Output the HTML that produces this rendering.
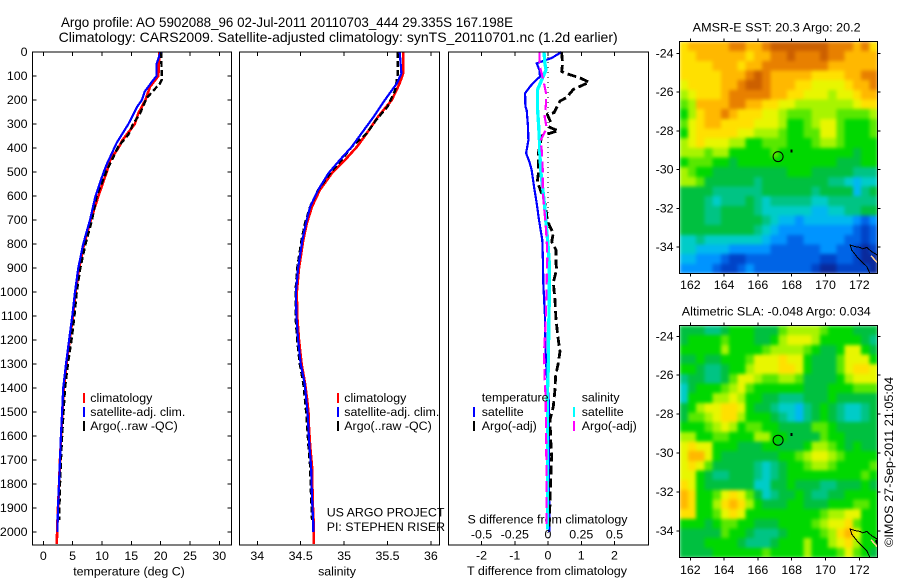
<!DOCTYPE html>
<html lang="en">
<head>
<meta charset="utf-8">
<title>Argo profile 5902088_96</title>
<style>
html,body{margin:0;padding:0;background:#fff;}
svg{display:block;font-family:"Liberation Sans",sans-serif;font-size:12.4px;fill:#000;}
</style>
</head>
<body>
<svg id="chart" width="900" height="580" viewBox="0 0 900 580" xmlns="http://www.w3.org/2000/svg">
  <defs>
    <filter id="smooth" x="0" y="0" width="100%" height="100%" color-interpolation-filters="sRGB">
      <feGaussianBlur stdDeviation="1.9" edgeMode="duplicate"/>
    </filter>
    <clipPath id="clip-sst"><rect x="679.5" y="41.5" width="198" height="232"/></clipPath>
    <clipPath id="clip-sla"><rect x="679.5" y="325.5" width="198" height="232"/></clipPath>
  </defs>
  <text x="61" y="27" font-size="14" textLength="452" lengthAdjust="spacingAndGlyphs">Argo profile: AO 5902088_96 02-Jul-2011 20110703_444 29.335S 167.198E</text>
  <text x="58.7" y="42" font-size="14" textLength="559" lengthAdjust="spacingAndGlyphs">Climatology: CARS2009. Satellite-adjusted climatology: synTS_20110701.nc (1.2d earlier)</text>
  <text x="129" y="575.500" text-anchor="middle">temperature (deg C)</text>
  <text x="337" y="575.500" text-anchor="middle">salinity</text>
  <text x="547" y="575" text-anchor="middle" textLength="160" lengthAdjust="spacingAndGlyphs">T difference from climatology</text>
  <text x="547.500" y="523.500" text-anchor="middle" textLength="160" lengthAdjust="spacingAndGlyphs">S difference from climatology</text>
  <text x="326.700" y="516.500">US ARGO PROJECT</text>
  <text x="326.700" y="531">PI: STEPHEN RISER</text>
  <text x="776.700" y="31.500" text-anchor="middle" textLength="168" lengthAdjust="spacingAndGlyphs">AMSR-E SST: 20.3 Argo: 20.2</text>
  <text x="776.300" y="315.500" text-anchor="middle" textLength="189" lengthAdjust="spacingAndGlyphs">Altimetric SLA: -0.048 Argo: 0.034</text>
  <text transform="translate(893,547) rotate(-90)" textLength="170" lengthAdjust="spacingAndGlyphs">©IMOS 27-Sep-2011 21:05:04</text>
</svg>
<script>
/* ---------- Profile data (depth in m) ---------- */
const depthTicks = [0,100,200,300,400,500,600,700,800,900,1000,1100,1200,1300,1400,1500,1600,1700,1800,1900,2000];
const tempTicks = [0,5,10,15,20,25,30];
const salTicks = [34,34.5,35,35.5,36];
const tDiffTicks = [-2,-1,0,1,2];
const sDiffTicks = [-0.5,-0.25,0,0.25,0.5];
const sDiffTickLabels = ["-0.5","-0.25","0","0.25","0.5"];

const tempClimDepth = [0,100,144,200,256,300,367,400,450,500,600,700,800,900,1000,1100,1200,1300,1400,1500,1600,1700,1800,1900,2000,2050];
const tempClimValue = [19.8,19.6,18.2,17.4,16.2,15.6,13.5,12.8,11.4,10.8,9.4,8.1,6.95,6.1,5.5,5.05,4.5,3.95,3.5,3.25,3.05,2.85,2.7,2.5,2.35,2.3];
const tempSatDepth = [0,50,100,115,164,200,228,300,379,463,500,600,700,800,900,1000,1100,1200,1300,1400,1500,1600,1700,1800,1900,2000];
const tempSatValue = [20.0,19.3,19.3,18.8,17.3,16.8,16.0,14.5,12.5,10.9,10.3,8.9,7.96,6.8,5.97,5.4,4.95,4.4,3.87,3.4,3.2,3.0,2.85,2.68,2.5,2.4];
const tempArgoDepth = [0,115,130,192,256,300,344,393,450,500,600,700,800,900,1000,1100,1200,1300,1400,1500,1600,1700,1800,1900,1950];
const tempArgoValue = [20.1,20.2,19.9,17.6,16.5,15.3,14.5,12.8,11.7,10.7,9.1,8.3,7.2,6.3,5.7,5.3,4.8,4.2,3.7,3.45,3.2,3.0,2.85,2.75,2.7];

const salClimDepth = [0,89,130,200,270,339,394,450,505,575,644,714,783,900,1000,1100,1200,1300,1380,1450,1505,1560,1644,1728,1811,1894,1964,2050];
const salClimValue = [35.68,35.68,35.64,35.55,35.39,35.26,35.15,35.01,34.86,34.72,34.63,34.57,34.53,34.48,34.455,34.46,34.48,34.51,34.55,34.575,34.59,34.595,34.61,34.63,34.635,34.64,34.65,34.65];
const salSatDepth = [0,89,130,200,270,339,394,450,505,575,644,714,783,900,1000,1100,1200,1300,1380,1450,1505,1560,1644,1728,1811,1894,1964,2000];
const salSatValue = [35.64,35.66,35.61,35.47,35.34,35.2,35.09,34.95,34.82,34.70,34.61,34.56,34.52,34.47,34.445,34.45,34.47,34.5,34.545,34.565,34.58,34.587,34.6,34.62,34.625,34.635,34.645,34.645];
const salArgoDepth = [0,89,158,228,283,339,394,450,505,575,644,714,783,900,1000,1100,1200,1300,1380,1450,1505,1560,1644,1728,1811,1894,1950];
const salArgoValue = [35.62,35.62,35.59,35.5,35.37,35.26,35.09,34.97,34.84,34.70,34.61,34.55,34.51,34.46,34.44,34.44,34.46,34.49,34.53,34.55,34.565,34.575,34.59,34.61,34.615,34.625,34.63];

const tDiffSatDepth = [0,25,47,75,103,117,144,172,228,242,311,367,422,457,492,561,630,700,783,880,964,1047,1103,1228,1339,1450,2000];
const tDiffSatValue = [0.41,0.11,-0.34,-0.26,-0.24,-0.36,-0.54,-0.69,-0.68,-0.64,-0.6,-0.59,-0.66,-0.56,-0.49,-0.42,-0.34,-0.27,-0.17,-0.15,-0.14,-0.11,-0.09,-0.08,-0.04,0.02,0.04];
const tDiffArgoDepth = [0,47,81,88,108,126,156,190,204,253,260,295,315,328,349,420,450,503,540,590,631,700,728,755,790,825,880,905,960,1033,1116,1199,1248,1296,1351,1407,1477,1533,1616,1686,1783,1880,1978];
const tDiffArgoValue = [0.41,0.44,0.41,0.51,0.96,1.24,0.76,0.56,0.36,0.18,-0.02,0.09,0.06,0.31,-0.19,-0.29,-0.29,-0.29,-0.32,-0.19,-0.09,-0.02,0.06,0.16,0.11,0.24,0.24,0.26,0.16,0.21,0.24,0.31,0.36,0.31,0.23,0.21,0.16,0.06,0.08,0.11,0.08,0.06,0.03];
const sDiffSatDepth = [0,47,75,117,158,228,311,367,436,505,575,644,714,783,825,880,1019,1158,1297,1436,1575,1990];
const sDiffSatValue = [-0.03,-0.023,-0.015,-0.048,-0.08,-0.08,-0.07,-0.065,-0.06,-0.053,-0.038,-0.025,-0.015,-0.003,0.003,0.01,0.01,0.005,0.003,-0.005,-0.003,-0.003];
const sDiffArgoDepth = [0,18,53,88,130,172,214,270,318,367,422,505,575,644,714,783,850,950,1090,1186,1256,1297,1367,1436,1700,1971];
const sDiffArgoValue = [-0.065,-0.065,-0.065,-0.048,-0.03,-0.015,-0.015,-0.025,-0.01,-0.055,-0.045,-0.038,-0.04,-0.03,-0.018,-0.01,-0.005,-0.01,-0.015,-0.023,-0.03,-0.028,-0.025,-0.018,-0.012,-0.012];

/* ---------- Map data (colour level per 0.5 degree cell, north to south) ---------- */
const lonTicks = [162,164,166,168,170,172];
const latTicks = [-24,-26,-28,-30,-32,-34];
const sstLevels = [
[12,13,13,13,13,13,14,14,13,13,14,15,15,15,15,15,15,15,14,14,14,13,14,12],
[12,12,13,13,13,13,13,13,12,13,13,14,14,15,14,14,14,15,14,14,13,13,13,13],
[12,12,12,12,13,13,13,12,13,13,14,14,14,14,14,14,14,14,13,13,13,13,13,13],
[12,12,12,12,12,13,13,13,14,15,14,13,13,13,13,13,12,12,12,12,13,13,14,14],
[11,12,12,12,12,13,13,14,15,15,14,13,13,13,12,12,11,11,11,11,12,13,13,14],
[10,11,12,12,12,13,14,14,14,14,14,13,13,12,12,11,11,11,10,11,11,12,13,13],
[9,10,13,13,13,13,14,14,13,13,12,12,11,11,10,10,10,10,10,10,10,11,12,12],
[8,10,12,13,13,14,13,12,12,12,11,11,10,9,9,9,10,10,10,9,9,9,9,10],
[9,11,12,13,13,12,12,12,12,11,11,11,10,8,8,9,10,11,11,9,8,8,8,9],
[8,11,12,12,12,12,12,11,11,10,10,10,9,8,8,9,9,11,11,9,8,8,8,9],
[10,11,12,11,11,11,10,10,8,8,9,9,9,8,8,8,9,10,10,9,8,8,8,8],
[10,10,10,9,10,10,8,8,8,8,8,9,8,8,8,8,8,8,8,8,8,7,8,8],
[8,9,9,9,8,8,7,8,8,8,8,8,8,8,8,8,8,8,8,7,7,7,8,8],
[10,9,8,8,7,7,7,7,7,7,7,7,7,8,8,8,7,7,7,7,7,6,6,6],
[10,10,9,7,7,7,7,7,7,6,7,7,7,7,7,7,7,7,6,6,5,4,5,5],
[7,7,7,7,6,6,6,6,6,6,7,7,7,7,7,7,6,7,7,7,7,4,6,7],
[7,7,7,6,5,6,6,6,7,6,5,6,6,6,6,6,5,5,6,6,6,6,6,6],
[7,7,7,6,6,7,7,7,7,6,5,5,5,5,5,5,4,4,5,5,6,6,7,7],
[7,7,7,6,6,7,7,7,7,7,6,5,4,4,3,4,4,4,4,4,4,3,2,3],
[7,7,7,7,7,7,7,7,7,6,5,4,3,3,3,3,3,3,3,3,3,2,1,2],
[5,5,6,5,5,5,5,5,5,5,4,3,3,2,2,3,3,3,3,3,2,2,1,2],
[5,5,4,4,4,4,3,3,3,3,3,2,2,2,2,2,2,3,3,2,2,1,0,1],
[4,4,3,3,3,2,1,1,2,2,2,2,2,2,2,2,2,1,1,2,2,1,0,0],
[3,3,3,3,2,1,1,2,3,2,2,2,2,2,2,2,1,0,0,1,1,1,1,0]
];
const slaLevels = [
[7,7,7,6,6,7,8,8,8,7,7,7,9,10,10,10,10,9,8,8,8,7,7,7],
[7,8,8,8,8,9,8,8,8,7,7,8,10,11,11,11,10,8,8,8,8,8,7,6],
[8,8,8,8,8,10,8,8,8,8,9,10,10,10,10,9,8,7,7,8,11,11,8,7],
[7,7,8,7,7,8,8,8,9,11,11,11,12,11,11,8,7,7,7,9,11,11,11,8],
[8,8,7,6,6,7,8,8,10,11,11,11,12,12,11,8,7,7,7,9,11,12,12,11],
[6,7,7,6,6,7,9,11,11,10,9,9,10,10,9,7,7,7,7,8,10,11,11,11],
[5,7,8,8,8,9,10,11,9,8,8,8,8,8,8,7,7,7,8,8,8,9,9,9],
[5,8,8,8,10,10,11,10,8,8,7,7,6,6,6,7,7,7,8,7,7,7,7,7],
[7,8,10,11,11,12,12,11,8,7,7,6,5,5,4,6,7,8,7,6,5,5,6,7],
[7,9,9,10,11,12,12,10,8,8,8,7,6,5,4,6,7,8,7,6,5,5,6,7],
[8,8,8,9,10,11,10,8,9,9,8,8,7,7,7,7,9,9,8,7,7,7,7,7],
[10,10,8,8,9,9,8,8,8,10,10,8,8,7,7,7,7,9,8,8,7,7,7,7],
[11,12,11,11,8,8,8,7,7,7,8,8,7,7,7,8,10,10,9,8,7,8,7,7],
[11,13,13,11,8,7,7,7,7,7,7,7,8,8,9,10,11,11,10,9,8,8,8,8],
[11,12,11,9,7,7,7,7,7,6,5,6,7,8,8,9,10,10,9,8,8,8,8,9],
[11,11,8,7,6,6,7,7,7,6,5,6,7,8,8,8,8,8,8,8,8,8,9,8],
[12,11,8,7,7,7,7,7,7,5,5,7,7,8,7,7,7,6,6,7,7,7,8,7],
[13,12,8,8,9,11,12,11,9,7,5,6,7,7,8,7,6,6,7,7,8,8,8,8],
[13,12,8,8,10,12,13,12,10,8,7,7,7,8,8,7,7,7,8,8,8,9,9,8],
[12,12,8,8,9,11,12,11,8,8,8,8,8,8,8,8,8,9,10,10,11,11,8,8],
[8,8,8,7,8,9,9,8,8,7,7,7,8,8,8,8,9,10,11,11,12,9,8,8],
[7,7,7,7,7,9,8,8,7,6,6,6,7,8,8,8,8,9,10,12,13,11,8,8],
[7,7,7,8,8,8,8,7,6,6,6,7,8,8,8,10,8,8,10,11,12,10,8,8],
[7,7,7,7,8,8,8,8,8,8,9,8,8,8,8,10,8,8,8,9,11,9,8,7]
];
const coastLons = [172.04,171.75,171.46,171.55,171.94,172.44,172.63];
const coastLats = [-34.02,-33.98,-33.9,-34.16,-34.59,-35.0,-35.36];
const coastNorthLons = [172.04,172.2,172.44,172.73,173.07];
const coastNorthLats = [-34.02,-34.1,-34.02,-34.24,-34.42];
const stripeLons = [172.7,173.05];
const stripeLats = [-34.45,-34.8];
const landLons = [172.92,173.07,173.07];
const landLats = [-34.5,-34.42,-34.75];
const profileLon = 167.198;
const profileLat = -29.335;
const islandLon = 167.95;
const islandLat = -29.05;

/* ---------- Styles (not data) ---------- */
const palette = ["#0a2a9c","#0044c8","#0064e6","#0094ff","#00b8f0","#00ccc8","#00c484","#00c040","#00d800","#58e800","#a8f400","#e8f600","#ffe000","#ffb800","#e88000","#cc6000"];

/* ---------- Helpers ---------- */
const SVGNS = "http://www.w3.org/2000/svg";
const root = document.getElementById("chart");
function add(parent, tag, attrs, txt){
  const el = document.createElementNS(SVGNS, tag);
  for (const k in attrs) el.setAttribute(k, attrs[k]);
  if (txt !== undefined) el.textContent = txt;
  parent.appendChild(el);
  return el;
}
function tick(parent, x1, y1, x2, y2){
  const t = add(parent, "line", {x1:x1, y1:y1, x2:x2, y2:y2, stroke:"#000", "stroke-width":1, "shape-rendering":"crispEdges"});
  
  
}
function frame(parent, l, t, r, b){
  const f = add(parent, "rect", {x:l, y:t, width:r-l, height:b-t, fill:"none", stroke:"#000", "stroke-width":1, "shape-rendering":"crispEdges"});
  
  
}
function label(parent, x, y, txt, anchor){
  const n = add(parent, "text", {x:x, y:y, "text-anchor":anchor || "middle"}, txt);
  
  
}
function series(parent, name, depths, values, xf, yf, color, width, dash){
  const pts = depths.map((d,i) => xf(values[i]).toFixed(1) + "," + yf(d).toFixed(1)).join(" ");
  const attrs = {points:pts, fill:"none", stroke:color, "stroke-width":width, "shape-rendering":"crispEdges", "stroke-linejoin":"round"};
  if (dash) attrs["stroke-dasharray"] = dash;
  const p = add(parent, "polyline", attrs);
  
  
}
function legendEntry(parent, barX, textX, cy, color, txt){
  const b = add(parent, "rect", {x:barX, y:cy-5, width:2, height:10, fill:color, "shape-rendering":"crispEdges"});
  
  
  const t = add(parent, "text", {x:textX, y:cy+4}, txt);
  
  
}

/* ---------- Profile axes ---------- */
const top0 = 52, bottom0 = 545;
const yDepth = d => 52 + 0.24 * d;
const xTemp = v => 43.3 + 5.867 * v;
const xSal = v => 257.3 + 86.8 * (v - 34);
const xT = v => 548 + 33.25 * v;
const xS = v => 548 + 133 * v;

/* Temperature panel */
const g1 = add(root, "g", {});


series(g1, "temperature-climatology-line", tempClimDepth, tempClimValue, xTemp, yDepth, "#ff0000", 2.6);
series(g1, "temperature-argo-line", tempArgoDepth, tempArgoValue, xTemp, yDepth, "#000000", 2.4, "6 3");
series(g1, "temperature-satellite-line", tempSatDepth, tempSatValue, xTemp, yDepth, "#0000ff", 2.2);
frame(g1, 32.5, top0, 231.5, bottom0);
tempTicks.forEach(v => {
  tick(g1, xTemp(v), top0, xTemp(v), top0+4);
  tick(g1, xTemp(v), bottom0, xTemp(v), bottom0-4);
  label(g1, xTemp(v), 560, String(v));
});
depthTicks.forEach(d => {
  tick(g1, 32.5, yDepth(d), 36.5, yDepth(d));
  tick(g1, 231.5, yDepth(d), 227.5, yDepth(d));
  label(g1, 27.5, yDepth(d)+4, String(d), "end");
});
legendEntry(g1, 83, 90.3, 398, "#ff0000", "climatology");
legendEntry(g1, 83, 90.3, 412, "#0000ff", "satellite-adj. clim.");
legendEntry(g1, 83, 90.3, 426, "#000000", "Argo(..raw -QC)");

/* Salinity panel */
const g2 = add(root, "g", {});


series(g2, "salinity-climatology-line", salClimDepth, salClimValue, xSal, yDepth, "#ff0000", 2.6);
series(g2, "salinity-argo-line", salArgoDepth, salArgoValue, xSal, yDepth, "#000000", 2.4, "6 3");
series(g2, "salinity-satellite-line", salSatDepth, salSatValue, xSal, yDepth, "#0000ff", 2.2);
frame(g2, 239.5, top0, 439.5, bottom0);
salTicks.forEach(v => {
  tick(g2, xSal(v), top0, xSal(v), top0+4);
  tick(g2, xSal(v), bottom0, xSal(v), bottom0-4);
  label(g2, xSal(v), 560, String(v));
});
legendEntry(g2, 337, 344.3, 398, "#ff0000", "climatology");
legendEntry(g2, 337, 344.3, 412, "#0000ff", "satellite-adj. clim.");
legendEntry(g2, 337, 344.3, 426, "#000000", "Argo(..raw -QC)");

/* Difference panel */
const g3 = add(root, "g", {});


const zero = add(g3, "line", {x1:xT(0), y1:top0, x2:xT(0), y2:bottom0, stroke:"#000", "stroke-width":1, "stroke-dasharray":"1 4", "shape-rendering":"crispEdges"});


series(g3, "t-difference-satellite-line", tDiffSatDepth, tDiffSatValue, xT, yDepth, "#0000ff", 2.2);
series(g3, "t-difference-argo-line", tDiffArgoDepth, tDiffArgoValue, xT, yDepth, "#000000", 2.8, "9 4");
series(g3, "s-difference-satellite-line", sDiffSatDepth, sDiffSatValue, xS, yDepth, "#00ffff", 3.3);
series(g3, "s-difference-argo-line", sDiffArgoDepth, sDiffArgoValue, xS, yDepth, "#ff00ff", 2.2, "11 5");
frame(g3, 448.5, top0, 648.5, bottom0);
tDiffTicks.forEach(v => {
  tick(g3, xT(v), top0, xT(v), top0+4);
  tick(g3, xT(v), bottom0, xT(v), bottom0-4);
  label(g3, xT(v), 559.500, String(v));
});
sDiffTicks.forEach((v,i) => {
  label(g3, xS(v), 538.500, sDiffTickLabels[i]);
});
const tempHead = add(g3, "text", {x:481.7, y:401.500}, "temperature");


const salHead = add(g3, "text", {x:581.7, y:401.500}, "salinity");


legendEntry(g3, 473, 481.7, 412, "#0000ff", "satellite");
legendEntry(g3, 473, 481.7, 426, "#000000", "Argo(-adj)");
legendEntry(g3, 573, 581.7, 412, "#00ffff", "satellite");
legendEntry(g3, 573, 581.7, 426, "#ff00ff", "Argo(-adj)");

/* ---------- Maps ---------- */
function drawMap(mapName, clipId, levels, t, b, lat24, latStep, labelY, showLand){
  const g = add(root, "g", {});
  
  
  const l = 679.5, r = 877.5;
  const xLon = v => 690.3 + 16.9 * (v - 162);
  const yLat = v => lat24 + latStep * (-24 - v);
  const latTop = -24 - (t - lat24) / latStep;
  const latBot = -24 - (b - lat24) / latStep;
  const lonLeft = 162 + (l - 690.3) / 16.9;
  const lonRight = 162 + (r - 690.3) / 16.9;
  const dLon = (lonRight - lonLeft) / levels[0].length;
  const dLat = (latTop - latBot) / levels.length;
  const clip = add(g, "g", {"clip-path":"url(#" + clipId + ")"});
  
  
  const cells = add(clip, "g", {filter:"url(#smooth)"});
  
  
  levels.forEach((row, j) => {
    row.forEach((level, i) => {
      const x0 = xLon(lonLeft + i * dLon), x1 = xLon(lonLeft + (i + 1) * dLon);
      const y0 = yLat(latTop - j * dLat), y1 = yLat(latTop - (j + 1) * dLat);
      const c = add(cells, "rect", {x:x0.toFixed(2), y:y0.toFixed(2), width:(x1-x0+0.6).toFixed(2), height:(y1-y0+0.6).toFixed(2), fill:palette[level], "shape-rendering":"crispEdges"});
      
      
    });
  });
  if (showLand) {
    const land = add(g, "polygon", {points:landLons.map((v,i) => xLon(v).toFixed(1)+","+yLat(landLats[i]).toFixed(1)).join(" "), fill:"#000"});
    
    
  }
  const stripe = add(g, "polyline", {points:stripeLons.map((v,i) => xLon(v).toFixed(1)+","+yLat(stripeLats[i]).toFixed(1)).join(" "), fill:"none", stroke:"#ffd090", "stroke-width":1.5, "shape-rendering":"crispEdges"});
  
  
  const coast = add(g, "polyline", {points:coastLons.map((v,i) => xLon(v).toFixed(1)+","+yLat(coastLats[i]).toFixed(1)).join(" "), fill:"none", stroke:"#000", "stroke-width":1, "shape-rendering":"crispEdges"});
  
  
  const coast2 = add(g, "polyline", {points:coastNorthLons.map((v,i) => xLon(v).toFixed(1)+","+yLat(coastNorthLats[i]).toFixed(1)).join(" "), fill:"none", stroke:"#000", "stroke-width":1, "shape-rendering":"crispEdges"});
  
  
  const island = add(g, "rect", {x:xLon(islandLon)-0.5, y:yLat(islandLat)-1.5, width:2, height:3, fill:"#000", "shape-rendering":"crispEdges"});
  
  
  const pos = add(g, "circle", {cx:xLon(profileLon).toFixed(1), cy:yLat(profileLat).toFixed(1), r:5, fill:"none", stroke:"#000", "stroke-width":1});
  
  
  frame(g, l, t, r, b);
  lonTicks.forEach(v => {
    tick(g, xLon(v), t, xLon(v), t-3);
    tick(g, xLon(v), b, xLon(v), b+3);
    label(g, xLon(v), labelY, String(v));
  });
  latTicks.forEach(v => {
    tick(g, l, yLat(v), l-3, yLat(v));
    tick(g, r, yLat(v), r+3, yLat(v));
    label(g, 673.5, yLat(v)+4, String(v), "end");
  });
}
drawMap("sst-map", "clip-sst", sstLevels, 41.5, 273.5, 53.3, 19.37, 289, false);
drawMap("sla-map", "clip-sla", slaLevels, 325.5, 557.5, 336.3, 19.47, 574, true);
</script>
</body>
</html>
